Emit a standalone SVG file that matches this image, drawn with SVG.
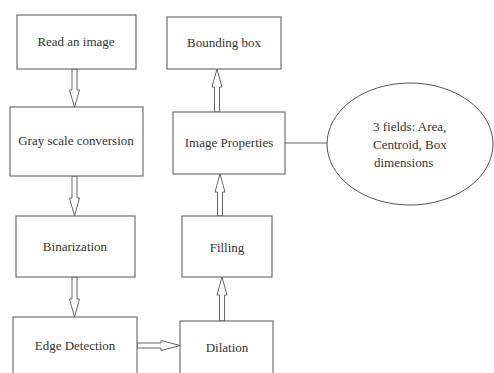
<svg xmlns="http://www.w3.org/2000/svg" width="494" height="373" viewBox="0 0 494 373">
<style>
.box{fill:#fff;stroke:#555;stroke-width:1}
.arr{fill:#fff;stroke:#666;stroke-width:1}
.ln{stroke:#666;stroke-width:1;fill:none}
text{font-family:"Liberation Serif","Times New Roman",serif;font-size:13px;fill:#333;text-anchor:middle}
.lt{text-anchor:start}
</style>
<rect width="494" height="373" fill="#fff"/>
<g id="connectors">
<polygon class="arr" points="72,69 77,69 77,90 79.5,90 74.5,107 69.5,90 72,90"/>
<polygon class="arr" points="72,176 77,176 77,198 79.5,198 74.5,216 69.5,198 72,198"/>
<polygon class="arr" points="72,277 77,277 77,299 79.5,299 74.5,317 69.5,299 72,299"/>
<polygon class="arr" points="137,343 161,343 161,340.5 180,345.5 161,350.5 161,348 137,348"/>
<polygon class="arr" points="219.5,321 224.5,321 224.5,295 227,295 222,277 217,295 219.5,295"/>
<polygon class="arr" points="217.5,216 222.5,216 222.5,192 225,192 220,174 215,192 217.5,192"/>
<polygon class="arr" points="214.5,112 219.5,112 219.5,87 222,87 217,69 212,87 214.5,87"/>
<line class="ln" x1="285" y1="143" x2="327" y2="143"/>
</g>
<g id="read"><rect class="box" x="17" y="15" width="119" height="54"/><text x="76" y="46">Read an image</text></g>
<g id="gray"><rect class="box" x="10" y="107" width="133" height="69"/><text x="76" y="145">Gray scale conversion</text></g>
<g id="bin"><rect class="box" x="16" y="216" width="119" height="61"/><text x="75" y="251">Binarization</text></g>
<g id="edge"><rect class="box" x="13" y="317" width="124" height="70"/><text x="75" y="350">Edge Detection</text></g>
<g id="bbox"><rect class="box" x="167" y="17" width="114" height="52"/><text x="224" y="47">Bounding box</text></g>
<g id="props"><rect class="box" x="173" y="112" width="112" height="62"/><text x="229" y="147">Image Properties</text></g>
<g id="fill"><rect class="box" x="182" y="216" width="90" height="61"/><text x="227" y="252">Filling</text></g>
<g id="dil"><rect class="box" x="180" y="321" width="93" height="66"/><text x="227" y="352">Dilation</text></g>
<g id="fields"><ellipse class="box" cx="410" cy="144" rx="83" ry="61"/>
<text class="lt" x="373" y="131">3 fields: Area,</text>
<text class="lt" x="373" y="149">Centroid, Box</text>
<text class="lt" x="374" y="167">dimensions</text></g>
</svg>
